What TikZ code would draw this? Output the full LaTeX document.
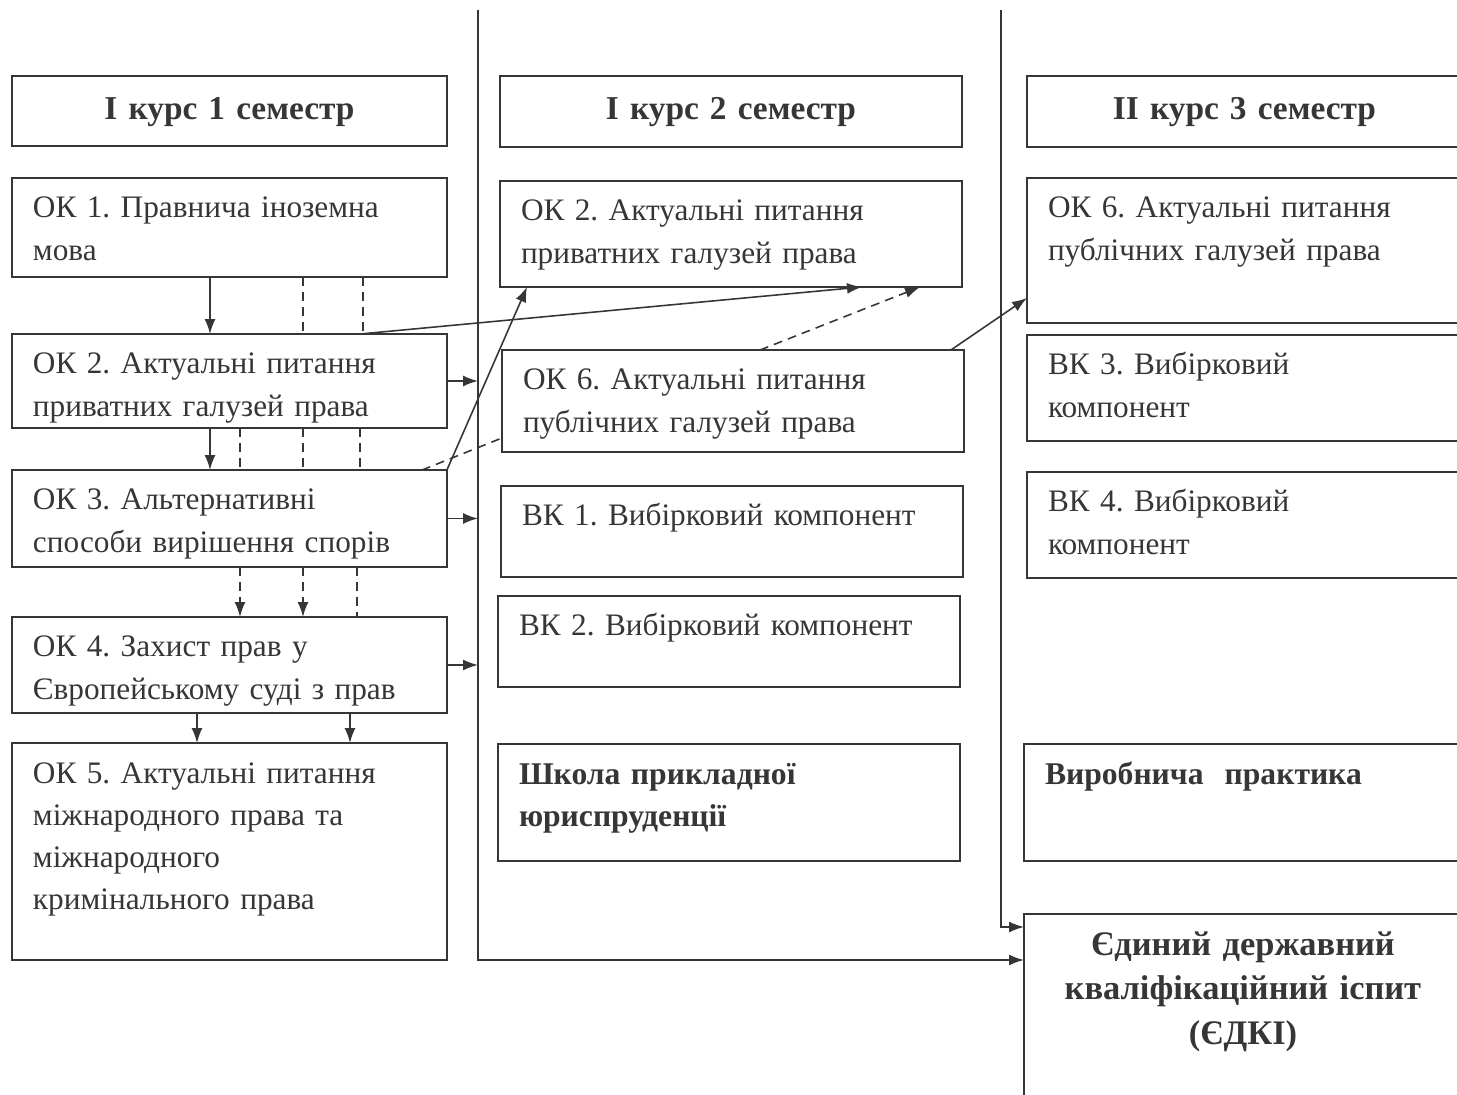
\documentclass[tikz,border=0pt]{standalone}
\usepackage{fontspec}
\setmainfont{Liberation Serif}
\usetikzlibrary{arrows,arrows.meta,calc,positioning}
\definecolor{ink}{HTML}{363636}
\frenchspacing

\begin{document}
\begin{tikzpicture}[x=0.02cm,y=-0.02cm,>={Latex[length=0.3cm,width=0.22cm]}]
\tikzstyle{box}=[draw=ink,text=ink,line width=0.8pt,anchor=north west,
inner xsep=0.42cm,inner ysep=0pt,outer sep=0pt,align=left,
text height=0.8cm,font=\fontsize{17.8}{24}\selectfont]
\tikzstyle{hdr}=[box,align=center,text height=0.88cm,font=\fontsize{19}{25}\selectfont\bfseries]
\tikzstyle{line}=[draw=ink,line width=0.9pt]
\tikzstyle{dashline}=[line,dash pattern=on 5pt off 3.5pt]
\useasboundingbox (0,0) rectangle (1457,1095);

% column 1
\node[hdr,text width=7.86cm,text depth=0.52cm] at (12,76) (a0) {I курс 1 семестр};
\node[box,text width=7.86cm,text depth=1.18cm] at (12,178) (a1) {ОК 1. Правнича іноземна\\мова};
\node[box,text width=7.86cm,text depth=1.08cm] at (12,334) (a2) {ОК 2. Актуальні питання\\приватних галузей права};
\node[box,text width=7.86cm,text depth=1.14cm] at (12,470) (a3) {ОК 3. Альтернативні\\способи вирішення спорів};
\node[box,text width=7.86cm,text depth=1.12cm] at (12,617) (a4) {ОК 4. Захист прав у\\Європейському суді з прав};
\node[box,text width=7.86cm,text depth=3.54cm] at (12,743) (a5) {ОК 5. Актуальні питання\\міжнародного права та\\міжнародного\\кримінального права};

% column 2
\node[hdr,text width=8.40cm,text depth=0.54cm] at (500,76) (b0) {I курс 2 семестр};
\node[box,text width=8.40cm,text depth=1.32cm] at (500,181) (b1) {ОК 2. Актуальні питання\\приватних галузей права};
\node[box,text width=8.40cm,text depth=1.24cm] at (502,350) (b2) {ОК 6. Актуальні питання\\публічних галузей права};
\node[box,text width=8.40cm,text depth=1.02cm] at (501,486) (b3) {ВК 1. Вибірковий компонент};
\node[box,text width=8.40cm,text depth=1.02cm] at (498,596) (b4) {ВК 2. Вибірковий компонент};
\node[box,text width=8.40cm,text depth=1.54cm,font=\fontsize{18}{24}\selectfont\bfseries] at (498,744) (b5) {Школа прикладної\\юриспруденції};

% column 3
\node[hdr,text width=7.86cm,text depth=0.54cm] at (1027,76) (c0) {II курс 3 семестр};
\node[box,text width=7.86cm,text depth=2.10cm] at (1027,178) (c1) {ОК 6. Актуальні питання\\публічних галузей права};
\node[box,text width=7.86cm,text depth=1.32cm] at (1027,335) (c2) {ВК 3. Вибірковий\\компонент};
\node[box,text width=7.86cm,text depth=1.32cm] at (1027,472) (c3) {ВК 4. Вибірковий\\компонент};
\node[box,text width=7.92cm,text depth=1.54cm,font=\fontsize{18}{24}\selectfont\bfseries] at (1024,744) (c4) {Виробнича\ \ практика};
\node[hdr,text width=7.92cm,text height=0.82cm,text depth=3.18cm,font=\fontsize{19.6}{25.6}\selectfont\bfseries] at (1024,914) (c5) {Єдиний державний\\кваліфікаційний іспит\\(ЄДКІ)};

% semester borders
\coordinate (v1) at (478,10);
\coordinate (w1) at (478,960);
\coordinate (v2) at (1001,10);
\coordinate (w2) at (1001,927);
\draw[line,->] (v1) -- (w1) -- (w1 -| c5.west);
\draw[line,->] (v2) -- (w2) -- (w2 -| c5.west);

% inside column 1
\draw[line,->] ($(a1.south west)+(198,0)$) -- ($(a2.north west)+(198,0)$);
\draw[dashline] ($(a1.south west)+(291,0)$) -- ($(a2.north west)+(291,0)$);
\draw[dashline] ($(a1.south west)+(351,0)$) -- ($(a2.north west)+(351,0)$);
\draw[line,->] ($(a2.south west)+(198,0)$) -- ($(a3.north west)+(198,0)$);
\draw[dashline] ($(a2.south west)+(228,0)$) -- ($(a3.north west)+(228,0)$);
\draw[dashline] ($(a2.south west)+(291,0)$) -- ($(a3.north west)+(291,0)$);
\draw[dashline] ($(a2.south west)+(348,0)$) -- ($(a3.north west)+(348,0)$);
\draw[dashline,->] ($(a3.south west)+(228,0)$) -- ($(a4.north west)+(228,0)$);
\draw[dashline,->] ($(a3.south west)+(291,0)$) -- ($(a4.north west)+(291,0)$);
\draw[dashline] ($(a3.south west)+(345,0)$) -- ($(a4.north west)+(345,0)$);
\draw[line,->] ($(a4.south west)+(185,0)$) -- ($(a5.north west)+(185,0)$);
\draw[line,->] ($(a4.south west)+(338,0)$) -- ($(a5.north west)+(338,0)$);

% to the next semester
\draw[line,->] (a2.east) -- (a2.east -| v1);
\draw[line,->] (a3.east) -- (a3.east -| v1);
\draw[line,->] (a4.east) -- (a4.east -| v1);
\draw[line,->] ($(a2.north west)+(348,0)$) -- ($(b1.south west)+(362,0)$);
\draw[line,->] (a3.north east) -- ($(b1.south west)+(27,0)$);
\draw[dashline] ($(a3.north west)+(410,0)$) -- ($(b2.south west)+(0,-14)$);
\draw[dashline,->] ($(b2.north west)+(258,0)$) -- ($(b1.south west)+(420,0)$);
\draw[line,->] ($(b2.north east)+(-13,0)$) -- ($(c1.north west)+(0,120)$);

\end{tikzpicture}
\end{document}
